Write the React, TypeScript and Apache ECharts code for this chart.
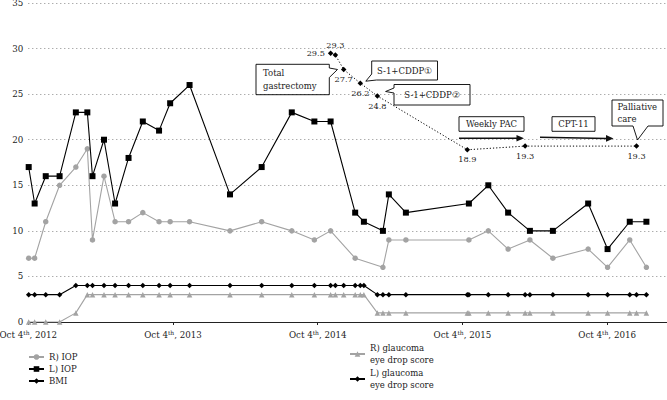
import React, { useEffect, useRef } from 'react';
import * as echarts from 'echarts';

const START = '2012-10-04';
const AXIS_END_DAYS = 1612;
const DAYS_PER_YEAR = 365.25;
const tickYears = [2012, 2013, 2014, 2015, 2016];

const iopDatesL = [
  '2012-10-05', '2012-10-20', '2012-11-17', '2012-12-22', '2013-02-01', '2013-03-02', '2013-03-15',
  '2013-04-13', '2013-05-11', '2013-06-14', '2013-07-20', '2013-08-30', '2013-09-27', '2013-11-15',
  '2014-02-25', '2014-05-16', '2014-07-31', '2014-09-26', '2014-11-06', '2015-01-07', '2015-01-29',
  '2015-03-18', '2015-04-02', '2015-05-15', '2015-10-21', '2015-12-09', '2016-01-28', '2016-03-23',
  '2016-05-20', '2016-08-17', '2016-10-05', '2016-11-30', '2017-01-11',
];
const iopL = [17, 13, 16, 16, 23, 23, 16, 20, 13, 18, 22, 21, 24, 26, 14, 17, 23, 22, 22, 12, 11, 10, 14, 12, 13, 15, 12, 10, 10, 13, 8, 11, 11];

const iopDatesR = [
  '2012-10-05', '2012-10-20', '2012-11-17', '2012-12-22', '2013-02-01', '2013-03-02', '2013-03-15',
  '2013-04-13', '2013-05-11', '2013-06-14', '2013-07-20', '2013-08-30', '2013-09-27', '2013-11-15',
  '2014-02-25', '2014-05-16', '2014-07-31', '2014-09-26', '2014-11-06', '2015-01-07',
  '2015-03-18', '2015-04-02', '2015-05-15', '2015-10-21', '2015-12-09', '2016-01-28', '2016-03-23',
  '2016-05-20', '2016-08-17', '2016-10-05', '2016-11-30', '2017-01-11',
];
const iopR = [7, 7, 11, 15, 17, 19, 9, 16, 11, 11, 12, 11, 11, 11, 10, 11, 10, 9, 10, 7, 6, 9, 9, 9, 10, 8, 9, 7, 8, 6, 9, 6];

const scoreDates = [
  '2012-10-05', '2012-10-20', '2012-11-17', '2012-12-22', '2013-02-01', '2013-03-02', '2013-03-15',
  '2013-04-13', '2013-05-11', '2013-06-14', '2013-07-20', '2013-08-30', '2013-09-27', '2013-11-15',
  '2014-02-25', '2014-05-16', '2014-07-31', '2014-09-26', '2014-11-06', '2014-11-18', '2014-12-09',
  '2015-01-07', '2015-01-20', '2015-01-29', '2015-03-04', '2015-03-18', '2015-04-02', '2015-05-15',
  '2015-10-17', '2015-10-21', '2015-12-09', '2016-01-28', '2016-03-11', '2016-03-23', '2016-05-20',
  '2016-08-17', '2016-10-05', '2016-11-30', '2016-12-17', '2017-01-11',
];
const scoreR = [0, 0, 0, 0, 1, 3, 3, 3, 3, 3, 3, 3, 3, 3, 3, 3, 3, 3, 3, 3, 3, 3, 3, 3, 1, 1, 1, 1, 1, 1, 1, 1, 1, 1, 1, 1, 1, 1, 1, 1];
const scoreL = [3, 3, 3, 3, 4, 4, 4, 4, 4, 4, 4, 4, 4, 4, 4, 4, 4, 4, 4, 4, 4, 4, 4, 4, 3, 3, 3, 3, 3, 3, 3, 3, 3, 3, 3, 3, 3, 3, 3, 3];

const bmiDates = ['2014-11-06', '2014-11-18', '2014-12-09', '2015-01-20', '2015-03-04', '2015-10-17', '2016-03-11', '2016-12-17'];
const bmi = [29.5, 29.3, 27.7, 26.2, 24.8, 18.9, 19.3, 19.3];
const bmiLabelPos = ['left', 'top', 'bottom', 'bottom', 'bottom', 'bottom', 'bottom', 'bottom'];

const FONT = 'DejaVu Serif';
const TXT = '#222';
const GREY = '#a3a3a3';

const dayOf = (d: string) => (Date.parse(d) - Date.parse(START)) / 86400000;
const pairs = (dates: string[], vals: number[]) => dates.map((d, i) => [dayOf(d), vals[i]]);

const NAME_RIOP = 'R) IOP';
const NAME_LIOP = 'L) IOP';
const NAME_BMI = 'BMI';
const NAME_RG = 'R) glaucoma\neye drop score';
const NAME_LG = 'L) glaucoma\neye drop score';

function boxText(text: string, x: number, y: number, align: string = 'center') {
  return {
    type: 'text',
    x,
    y,
    z: 100,
    style: { text, fontFamily: FONT, fontSize: 8.5, fill: TXT, align, verticalAlign: 'middle', lineHeight: 12 },
  };
}
function poly(points: number[][], fill = 'none', lw = 0.9) {
  return { type: 'polygon', z: 100, shape: { points }, style: { fill, stroke: '#000', lineWidth: lw } };
}

export default function App() {
  const ref = useRef<HTMLDivElement>(null);
  useEffect(() => {
    if (!ref.current) return;
    const chart = echarts.init(ref.current, undefined, { renderer: 'svg' });
    const option: any = {
      animation: false,
      backgroundColor: '#fff',
      textStyle: { fontFamily: FONT },
      grid: { left: 28.3, right: 0, top: 3, bottom: 78, containLabel: false, outerBoundsMode: 'none' },
      xAxis: {
        type: 'value',
        min: 0,
        max: AXIS_END_DAYS,
        interval: DAYS_PER_YEAR,
        axisLine: { lineStyle: { color: '#222', width: 1 } },
        axisTick: { length: 3, lineStyle: { color: '#222' } },
        splitLine: { show: false },
        axisLabel: {
          showMaxLabel: false,
          margin: 7,
          formatter: (v: number) => {
            const y = tickYears[Math.round(v / DAYS_PER_YEAR)];
            return `{a|Oct 4}{s|th}{a|, ${y}}`;
          },
          rich: {
            a: { fontFamily: FONT, fontSize: 8.7, color: TXT, lineHeight: 12 },
            s: { fontFamily: FONT, fontSize: 6, color: TXT, lineHeight: 7, verticalAlign: 'top' },
          },
        },
      },
      yAxis: {
        type: 'value',
        min: 0,
        max: 35,
        interval: 5,
        axisLine: { show: false },
        axisTick: { show: false },
        axisLabel: { fontFamily: FONT, fontSize: 8.7, color: TXT, margin: 5 },
        splitLine: { lineStyle: { color: '#8a8a8a', type: [1, 3], width: 1 } },
      },
      legend: [
        {
          orient: 'vertical',
          left: 28,
          top: 351,
          padding: 0,
          itemWidth: 15,
          itemHeight: 7,
          itemGap: 0,
          textStyle: { fontFamily: FONT, fontSize: 8.5, color: TXT, lineHeight: 12 },
          data: [NAME_RIOP, NAME_LIOP, { name: NAME_BMI, lineStyle: { type: 'solid' } }],
        },
        {
          orient: 'vertical',
          left: 349,
          top: 336,
          padding: 0,
          itemWidth: 15,
          itemHeight: 7,
          itemGap: -11,
          textStyle: { fontFamily: FONT, fontSize: 8.5, color: TXT, lineHeight: 12, padding: [12, 0, 0, 0] },
          data: [NAME_RG, NAME_LG],
        },
      ],
      series: [
        {
          name: NAME_RIOP,
          type: 'line',
          data: pairs(iopDatesR, iopR),
          symbol: 'circle',
          symbolSize: 5.5,
          itemStyle: { color: GREY },
          lineStyle: { color: GREY, width: 1.1 },
          z: 2,
        },
        {
          name: NAME_LIOP,
          type: 'line',
          data: pairs(iopDatesL, iopL),
          symbol: 'rect',
          symbolSize: 6,
          itemStyle: { color: '#000' },
          lineStyle: { color: '#000', width: 1.1 },
          z: 3,
        },
        {
          name: NAME_BMI,
          type: 'line',
          data: pairs(bmiDates, bmi).map((p, i) => ({
            value: p,
            label: { position: bmiLabelPos[i] },
          })),
          symbol: 'diamond',
          symbolSize: 5.5,
          itemStyle: { color: '#000' },
          lineStyle: { color: '#000', width: 1, type: [1.2, 2] },
          label: {
            show: true,
            fontFamily: FONT,
            fontSize: 8.2,
            color: TXT,
            distance: 3,
            formatter: (p: any) => String(p.value[1]),
          },
          z: 3,
        },
        {
          name: NAME_RG,
          type: 'line',
          data: pairs(scoreDates, scoreR),
          symbol: 'triangle',
          symbolSize: 5.5,
          itemStyle: { color: GREY },
          lineStyle: { color: GREY, width: 1.1 },
          z: 2,
        },
        {
          name: NAME_LG,
          type: 'line',
          data: pairs(scoreDates, scoreL),
          symbol: 'diamond',
          symbolSize: 5.5,
          itemStyle: { color: '#000' },
          lineStyle: { color: '#000', width: 1.1 },
          z: 3,
        },
      ],
      graphic: [
        // Total gastrectomy
        poly([[256, 64.3], [329.3, 64.3], [329.3, 68], [337.5, 69.5], [329.3, 77.5], [329.3, 94.7], [256, 94.7]]),
        boxText('Total', 263, 72.5, 'left'),
        boxText('gastrectomy', 263, 85.5, 'left'),
        // S-1+CDDP 1
        poly([[371.7, 61], [437.5, 61], [437.5, 80], [376.5, 80], [365.8, 81.2], [371.7, 74]]),
        boxText('S-1+CDDP①', 404.6, 70.8),
        // S-1+CDDP 2
        poly([[394, 84.5], [470, 84.5], [470, 105], [394, 105], [394, 93], [385.6, 91.5], [394, 88]]),
        boxText('S-1+CDDP②', 432, 95),
        // Weekly PAC
        poly([[459, 116.7], [524, 116.7], [524, 131.3], [459, 131.3]]),
        boxText('Weekly PAC', 491.5, 124.2),
        { type: 'line', z: 100, shape: { x1: 459, y1: 138.3, x2: 518, y2: 138.3 }, style: { stroke: '#111', lineWidth: 1.5 } },
        { type: 'polygon', z: 100, shape: { points: [[516.5, 135], [524, 138.3], [516.5, 141.6]] }, style: { fill: '#111' } },
        // CPT-11
        poly([[552, 116.7], [595, 116.7], [595, 131.3], [552, 131.3]]),
        boxText('CPT-11', 573.5, 124.2),
        { type: 'line', z: 100, shape: { x1: 540, y1: 137.3, x2: 607, y2: 138.4 }, style: { stroke: '#111', lineWidth: 1.5 } },
        { type: 'polygon', z: 100, shape: { points: [[606, 135.1], [613.5, 138.5], [606, 141.7]] }, style: { fill: '#111' } },
        // Palliative care
        poly([[612, 100], [663, 100], [663, 126], [648, 126], [637.5, 140], [633, 126], [612, 126]]),
        boxText('Palliative', 617.5, 106.8, 'left'),
        boxText('care', 617.5, 118.8, 'left'),
      ],
    };
    chart.setOption(option);
    return () => chart.dispose();
  }, []);
  return (
    <div
      ref={ref}
      style={{ position: 'fixed', left: 0, top: 0, width: 667, height: 400, background: '#fff' }}
    />
  );
}
